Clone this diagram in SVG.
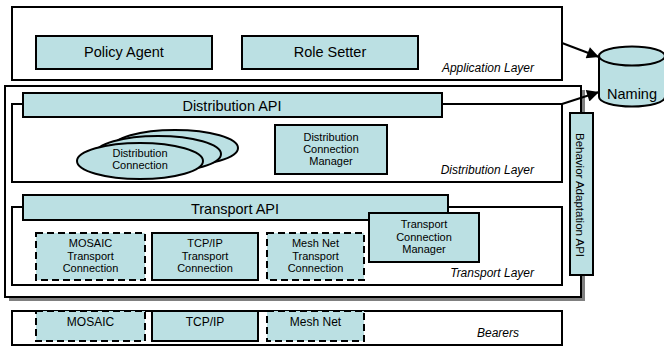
<svg xmlns="http://www.w3.org/2000/svg" width="664" height="347" viewBox="0 0 664 347">
  <defs>
    <style>
      .layer { fill: #ffffff; stroke: #000; stroke-width: 2; }
      .box { fill: #BBE0E3; stroke: #000; stroke-width: 2; }
      .dash { fill: #BBE0E3; stroke: #000; stroke-width: 2; stroke-dasharray: 7 4; }
      .t { font-family: "Liberation Sans", Arial, sans-serif; fill: #000; text-anchor: middle; }
      .big { font-size: 14.5px; }
      .sm { font-size: 11px; }
      .md { font-size: 12px; }
      .vert { font-size: 11.5px; }
      .lbl { font-family: "Liberation Sans", Arial, sans-serif; font-style: italic; font-size: 12px; text-anchor: end; fill: #000; }
      .conn { fill: none; stroke: #000; stroke-width: 2; }
    </style>
    <marker id="arrow" viewBox="0 0 10 10" refX="10" refY="5" markerWidth="7" markerHeight="6" markerUnits="strokeWidth" orient="auto">
      <path d="M0,0 L10,5 L0,10 Z" fill="#000"/>
    </marker>
  </defs>

  <rect width="664" height="347" fill="#ffffff"/>

  <!-- Application layer -->
  <g id="application-layer">
    <rect class="layer" x="12" y="7" width="550" height="73"/>
    <text class="lbl" x="534" y="72">Application Layer</text>
  </g>
  <g id="policy-agent">
    <rect class="box" x="36" y="36" width="176" height="33"/>
    <text class="t big" x="124" y="57">Policy Agent</text>
  </g>
  <g id="role-setter">
    <rect class="box" x="242" y="36" width="176" height="33"/>
    <text class="t big" x="330" y="57">Role Setter</text>
  </g>

  <!-- Container for distribution and transport layers -->
  <g id="middleware">
    <rect x="9" y="90" width="576" height="211" fill="#808080"/>
    <rect class="layer" x="5" y="86" width="576" height="211"/>
  </g>

  <!-- Distribution layer -->
  <g id="distribution-layer">
    <rect class="layer" x="12" y="104" width="550" height="78"/>
    <text class="lbl" x="534" y="174">Distribution Layer</text>
  </g>
  <g id="distribution-api">
    <rect class="box" x="23" y="93" width="419" height="24"/>
    <text class="t big" x="232" y="111">Distribution API</text>
  </g>
  <g id="distribution-connection">
    <ellipse class="box" cx="175" cy="148" rx="63" ry="18"/>
    <ellipse class="box" cx="158" cy="154" rx="63" ry="18"/>
    <ellipse class="box" cx="140" cy="161" rx="63" ry="18"/>
    <text class="t sm" x="140" y="157">Distribution</text>
    <text class="t sm" x="140" y="169">Connection</text>
  </g>
  <g id="distribution-connection-manager">
    <rect class="box" x="275" y="125" width="112" height="49"/>
    <text class="t sm" x="331" y="141">Distribution</text>
    <text class="t sm" x="331" y="153">Connection</text>
    <text class="t sm" x="331" y="165">Manager</text>
  </g>

  <!-- Transport layer -->
  <g id="transport-layer">
    <rect class="layer" x="12" y="207" width="550" height="78"/>
    <text class="lbl" x="534" y="277">Transport Layer</text>
  </g>
  <g id="transport-api">
    <rect class="box" x="23" y="195" width="425" height="25"/>
    <text class="t big" x="235" y="214">Transport API</text>
  </g>
  <g id="transport-connection-manager">
    <rect class="box" x="369" y="213" width="110" height="49"/>
    <text class="t sm" x="424" y="228">Transport</text>
    <text class="t sm" x="424" y="241">Connection</text>
    <text class="t sm" x="424" y="253">Manager</text>
  </g>
  <g id="mosaic-transport">
    <rect class="dash" x="36" y="233" width="109" height="47"/>
    <text class="t sm" x="90.5" y="247">MOSAIC</text>
    <text class="t sm" x="90.5" y="260">Transport</text>
    <text class="t sm" x="90.5" y="272">Connection</text>
  </g>
  <g id="tcpip-transport">
    <rect class="box" x="152" y="233" width="106" height="47"/>
    <text class="t sm" x="205" y="247">TCP/IP</text>
    <text class="t sm" x="205" y="260">Transport</text>
    <text class="t sm" x="205" y="272">Connection</text>
  </g>
  <g id="meshnet-transport">
    <rect class="dash" x="267" y="233" width="97" height="47"/>
    <text class="t sm" x="315.5" y="247">Mesh Net</text>
    <text class="t sm" x="315.5" y="260">Transport</text>
    <text class="t sm" x="315.5" y="272">Connection</text>
  </g>

  <!-- Behavior adaptation API -->
  <g id="behavior-adaptation-api">
    <rect class="box" x="570" y="113" width="23" height="162"/>
    <text class="t vert" transform="translate(575.5 195) rotate(90)" x="0" y="0">Behavior Adaptation API</text>
  </g>

  <!-- Bearers -->
  <g id="bearers">
    <rect class="layer" x="12" y="311" width="550" height="34"/>
    <text class="lbl" x="519" y="337">Bearers</text>
  </g>
  <g id="mosaic-bearer">
    <rect class="dash" x="36" y="311" width="109" height="30"/>
    <text class="t md" x="90.5" y="326">MOSAIC</text>
  </g>
  <g id="tcpip-bearer">
    <rect class="box" x="152" y="311" width="106" height="30"/>
    <text class="t md" x="205" y="326">TCP/IP</text>
  </g>
  <g id="meshnet-bearer">
    <rect class="dash" x="267" y="311" width="97" height="30"/>
    <text class="t md" x="315.5" y="326">Mesh Net</text>
  </g>

  <!-- Naming service -->
  <g id="naming">
    <path class="box" d="M599,56 L599,97 A33,9.5 0 0 0 665,97 L665,56"/>
    <ellipse class="box" cx="632" cy="56" rx="33" ry="9.5"/>
    <text class="t big" x="632" y="99">Naming</text>
  </g>

  <!-- Connectors -->
  <g id="connectors">
    <line class="conn" x1="562" y1="43" x2="599" y2="57" marker-end="url(#arrow)"/>
    <line class="conn" x1="562" y1="104" x2="599" y2="92" marker-end="url(#arrow)"/>
  </g>
</svg>
